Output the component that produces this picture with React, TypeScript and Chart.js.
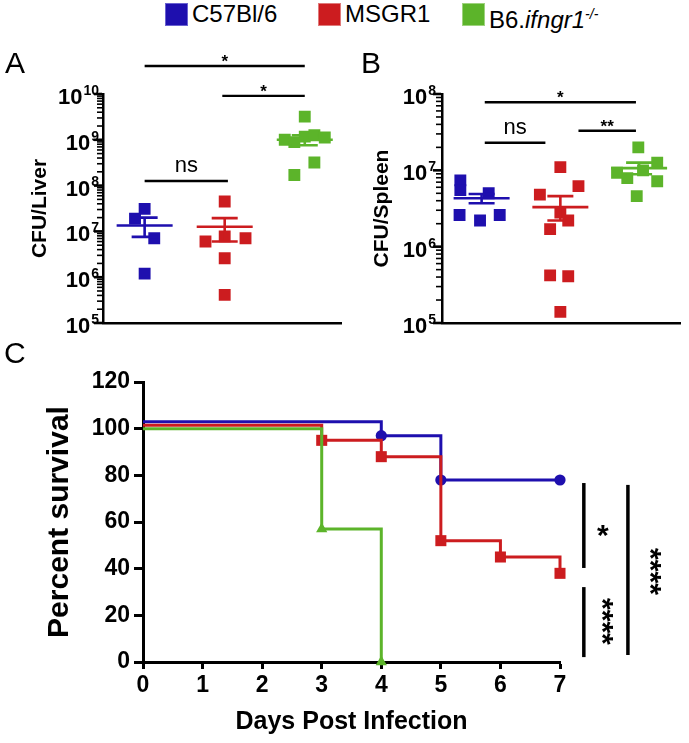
import React, { useEffect, useRef } from 'react';
import { Chart, registerables } from 'chart.js';

Chart.register(...registerables);

const FONT = "'Liberation Sans', Arial, Helvetica, sans-serif";

const GROUP_COLORS = ['#1e0fae', '#cc1c1f', '#5cb42a'];

// ---------- Panel A: CFU / Liver ----------
const liverX_C57 = [0, -0.12, 0.12, 0];
const liverCFU_C57 = [3.1e7, 1.9e7, 7.1e6, 1.2e6];
const liverX_MSGR1 = [1, 0.76, 1, 1.26, 1, 1];
const liverCFU_MSGR1 = [4.5e7, 6.0e6, 7.8e6, 7.1e6, 2.6e6, 4.1e5];
const liverX_IFNGR = [2, 1.75, 1.87, 2, 2.12, 2.25, 2.12, 1.87];
const liverCFU_IFNGR = [3.2e9, 1.0e9, 8.9e8, 1.17e9, 1.26e9, 1.12e9, 3.2e8, 1.7e8];
const liverMean = [1.35e7, 1.26e7, 1.0e9];
const liverSemHi = [2.0e7, 1.95e7, 1.26e9];
const liverSemLo = [7.6e6, 6.0e6, 7.6e8];
const liverSigFrom = [0, 0.97, 0];
const liverSigTo = [2, 2, 1.04];
const liverSigLevel = [4.1e10, 9.1e9, 1.26e8];
const liverSigLabel = ['*', '*', 'ns'];
const liverExponents = [5, 6, 7, 8, 9, 10];

// ---------- Panel B: CFU / Spleen ----------
const spleenX_C57 = [-0.27, -0.27, 0.09, -0.28, -0.02, 0.23];
const spleenCFU_C57 = [7.4e6, 5.5e6, 5.0e6, 2.6e6, 2.2e6, 2.6e6];
const spleenX_MSGR1 = [1, 1.23, 0.74, 1, 1.1, 0.87, 0.87, 1.1, 1];
const spleenCFU_MSGR1 = [1.1e7, 6.2e6, 4.8e6, 2.8e6, 2.2e6, 1.7e6, 4.2e5, 4.1e5, 1.4e5];
const spleenX_IFNGR = [1.99, 2.23, 1.72, 2.23, 1.97, 2.05, 1.85];
const spleenCFU_IFNGR = [2.0e7, 1.26e7, 9.3e6, 7.2e6, 4.6e6, 1.0e7, 7.9e6];
const spleenMean = [4.3e6, 3.3e6, 1.07e7];
const spleenSemHi = [4.9e6, 4.6e6, 1.26e7];
const spleenSemLo = [3.7e6, 2.2e6, 8.9e6];
const spleenSigFrom = [0.04, 0.04, 1.23];
const spleenSigTo = [1.96, 0.81, 1.96];
const spleenSigLevel = [7.8e7, 2.3e7, 3.3e7];
const spleenSigLabel = ['*', 'ns', '**'];
const spleenExponents = [5, 6, 7, 8];

const MINOR_MULTIPLIERS = [1, 2, 3, 4, 5, 6, 7, 8, 9];

// ---------- Panel C: survival ----------
const daysC57 = [0, 4, 5, 7];
const survC57 = [103, 97, 78, 78];
const daysMSGR1 = [0, 3, 4, 5, 6, 7];
const survMSGR1 = [101.5, 95, 88, 52, 45, 38];
const daysIFNGR = [0, 3, 4];
const survIFNGR = [100, 57, 0];
const dayTicks = [0, 1, 2, 3, 4, 5, 6, 7];
const survTicks = [0, 20, 40, 60, 80, 100, 120];
const survSigDay = [7.4, 7.4, 8.14];
const survSigFrom = [40.3, 2.1, 3.0];
const survSigTo = [76.7, 32.1, 75.9];
const survSigLabel = ['*', '****', '****'];
const survSigLabelDay = [7.72, 7.77, 8.58];
const survSigLabelY = [55.7, 17.4, 38.8];

type DotCfg = {
  xs: number[][];
  ys: number[][];
  mean: number[];
  semHi: number[];
  semLo: number[];
  sigFrom: number[];
  sigTo: number[];
  sigLevel: number[];
  sigLabel: string[];
  exponents: number[];
  title: string;
  width: number;
  height: number;
  axisWidth: number;
  padTop: number;
  padRight: number;
  xAxisHeight: number;
  xMin: number;
  xMax: number;
  titlePad: number;
  labelGap: number;
};

function DotPlot(props: DotCfg) {
  const ref = useRef<HTMLCanvasElement | null>(null);
  useEffect(() => {
    if (!ref.current) return;
    const p = props;
    const minE = p.exponents[0];
    const maxE = p.exponents[p.exponents.length - 1];
    const tickValues: { value: number; major: boolean }[] = [];
    p.exponents.forEach((e) => {
      if (e === maxE) {
        tickValues.push({ value: Math.pow(10, e), major: true });
        return;
      }
      MINOR_MULTIPLIERS.forEach((m) => {
        tickValues.push({ value: m * Math.pow(10, e), major: m === 1 });
      });
    });

    const datasets = p.xs.map((xarr, i) => ({
      label: 'g' + i,
      data: xarr.map((x, j) => ({ x, y: p.ys[i][j] })),
      pointStyle: 'rect',
      pointRadius: 8.4,
      pointHoverRadius: 8.4,
      backgroundColor: GROUP_COLORS[i],
      borderColor: GROUP_COLORS[i],
      borderWidth: 0,
    }));

    const overlay = {
      id: 'overlay',
      afterDatasetsDraw(chart: any) {
        const ctx = chart.ctx;
        const xs = chart.scales.x;
        const ys = chart.scales.y;
        ctx.save();
        // mean +/- SEM
        p.mean.forEach((m: number, i: number) => {
          const cx = xs.getPixelForValue(i);
          const ym = ys.getPixelForValue(m);
          const yh = ys.getPixelForValue(p.semHi[i]);
          const yl = ys.getPixelForValue(p.semLo[i]);
          ctx.strokeStyle = GROUP_COLORS[i];
          ctx.lineWidth = 2.6;
          ctx.beginPath();
          ctx.moveTo(cx - 28, ym);
          ctx.lineTo(cx + 28, ym);
          ctx.moveTo(cx - 13, yh);
          ctx.lineTo(cx + 13, yh);
          ctx.moveTo(cx - 13, yl);
          ctx.lineTo(cx + 13, yl);
          ctx.moveTo(cx, yh);
          ctx.lineTo(cx, yl);
          ctx.stroke();
        });
        // significance bars
        ctx.strokeStyle = '#000';
        ctx.fillStyle = '#000';
        ctx.lineWidth = 2.4;
        ctx.textAlign = 'center';
        ctx.textBaseline = 'alphabetic';
        p.sigLevel.forEach((lv: number, i: number) => {
          const x1 = xs.getPixelForValue(p.sigFrom[i]);
          const x2 = xs.getPixelForValue(p.sigTo[i]);
          const y = ys.getPixelForValue(lv);
          ctx.beginPath();
          ctx.moveTo(x1, y);
          ctx.lineTo(x2, y);
          ctx.stroke();
          const lab = p.sigLabel[i];
          if (lab === 'ns') {
            ctx.font = `22px ${FONT}`;
            ctx.fillText(lab, (x1 + x2) / 2, y - 9);
          } else {
            ctx.font = `bold 17px ${FONT}`;
            ctx.fillText(lab, (x1 + x2) / 2, y + 1);
          }
        });
        ctx.restore();
      },
      afterDraw(chart: any) {
        const ctx = chart.ctx;
        const ys = chart.scales.y;
        const axisX = chart.chartArea.left - 1;
        const right = chart.chartArea.left - p.labelGap;
        ctx.save();
        // tick marks (major + minor) placed through the log scale
        ctx.strokeStyle = '#000';
        ctx.lineCap = 'butt';
        tickValues.forEach((t) => {
          const y = ys.getPixelForValue(t.value);
          ctx.lineWidth = t.major ? 2.6 : 1.6;
          ctx.beginPath();
          ctx.moveTo(axisX, y);
          ctx.lineTo(axisX - (t.major ? 8 : 5), y);
          ctx.stroke();
        });
        ctx.fillStyle = '#000';
        ctx.textAlign = 'right';
        ctx.textBaseline = 'middle';
        p.exponents.forEach((e: number) => {
          const y = ys.getPixelForValue(Math.pow(10, e));
          ctx.font = `bold 14px ${FONT}`;
          const sup = String(e);
          const w = ctx.measureText(sup).width;
          ctx.fillText(sup, right, y - 3);
          ctx.font = `bold 22px ${FONT}`;
          ctx.fillText('10', right - w - 1, y + 4);
        });
        ctx.restore();
      },
    };

    const chart = new Chart(ref.current, {
      type: 'scatter',
      data: { datasets: datasets as any },
      options: {
        animation: false,
        responsive: false,
        events: [],
        layout: { padding: { top: p.padTop, right: p.padRight, left: 0, bottom: 0 } },
        plugins: { legend: { display: false }, tooltip: { enabled: false } },
        scales: {
          x: {
            type: 'linear',
            min: p.xMin,
            max: p.xMax,
            grid: { display: false, drawTicks: false },
            border: { display: true, color: '#000', width: 2.5 },
            ticks: { display: false },
            afterFit: (s: any) => {
              s.height = p.xAxisHeight;
            },
          },
          y: {
            type: 'logarithmic',
            min: Math.pow(10, minE),
            max: Math.pow(10, maxE),
            grid: { display: false, drawOnChartArea: false, drawTicks: false },
            border: { display: true, color: '#000', width: 2.5 },
            ticks: { display: false, autoSkip: false },
            title: {
              display: true,
              text: p.title,
              color: '#000',
              font: { family: FONT, size: 21, weight: 'bold' },
              padding: { top: p.titlePad, bottom: 0 },
            },
            afterBuildTicks: (s: any) => {
              s.ticks = tickValues.map((t) => ({ value: t.value, major: t.major }));
            },
            afterFit: (s: any) => {
              s.width = p.axisWidth;
            },
          },
        },
      } as any,
      plugins: [overlay],
    });
    return () => chart.destroy();
  }, []);
  return <canvas ref={ref} width={props.width} height={props.height} style={{ width: props.width, height: props.height, display: 'block' }} />;
}

function SurvivalChart() {
  const ref = useRef<HTMLCanvasElement | null>(null);
  useEffect(() => {
    if (!ref.current) return;
    const mk = (days: number[], surv: number[], color: string, style: string, radius: number) => ({
      data: days.map((d, i) => ({ x: d, y: surv[i] })),
      borderColor: color,
      backgroundColor: color,
      borderWidth: 3,
      stepped: true,
      tension: 0,
      pointStyle: style,
      pointRadius: days.map((_, i) => (i === 0 ? 0 : radius)),
      pointBorderWidth: 0,
      clip: false,
    });
    const datasets = [
      mk(daysIFNGR, survIFNGR, GROUP_COLORS[2], 'triangle', 6.5),
      mk(daysMSGR1, survMSGR1, GROUP_COLORS[1], 'rect', 7.8),
      mk(daysC57, survC57, GROUP_COLORS[0], 'circle', 5.6),
    ];
    const sigPlugin = {
      id: 'sig',
      afterDraw(chart: any) {
        const ctx = chart.ctx;
        const xs = chart.scales.x;
        const ys = chart.scales.y;
        ctx.save();
        ctx.strokeStyle = '#000';
        ctx.fillStyle = '#000';
        ctx.lineWidth = 3.5;
        survSigDay.forEach((d, i) => {
          const x = xs.getPixelForValue(d);
          ctx.beginPath();
          ctx.moveTo(x, ys.getPixelForValue(survSigTo[i]));
          ctx.lineTo(x, ys.getPixelForValue(survSigFrom[i]));
          ctx.stroke();
          const lx = xs.getPixelForValue(survSigLabelDay[i]);
          const ly = ys.getPixelForValue(survSigLabelY[i]);
          ctx.font = `bold 30px ${FONT}`;
          ctx.textAlign = 'center';
          ctx.textBaseline = 'middle';
          const lab = survSigLabel[i];
          ctx.save();
          ctx.translate(lx, ly);
          if (lab.length > 1) ctx.rotate(Math.PI / 2);
          ctx.fillText(lab, 0, 5);
          ctx.restore();
        });
        ctx.restore();
      },
    };
    const tickFont = { family: FONT, size: 23, weight: 'bold' };
    const chart = new Chart(ref.current, {
      type: 'line',
      data: { datasets: datasets as any },
      options: {
        animation: false,
        responsive: false,
        events: [],
        layout: { padding: { top: 42, right: 129, left: 0, bottom: 0 } },
        plugins: { legend: { display: false }, tooltip: { enabled: false } },
        scales: {
          x: {
            type: 'linear',
            min: 0,
            max: 7,
            afterBuildTicks: (s: any) => {
              s.ticks = dayTicks.map((v) => ({ value: v }));
            },
            ticks: { color: '#000', font: tickFont, padding: 3, autoSkip: false, maxRotation: 0 },
            grid: { display: true, drawOnChartArea: false, tickLength: 7, tickWidth: 3, tickColor: '#000' },
            border: { display: true, color: '#000', width: 3 },
            title: {
              display: true,
              text: 'Days Post Infection',
              color: '#000',
              font: { family: FONT, size: 25, weight: 'bold' },
              padding: { top: 0, bottom: 6 },
            },
            afterFit: (s: any) => {
              s.height = 81;
            },
          },
          y: {
            type: 'linear',
            min: 0,
            max: 120,
            afterBuildTicks: (s: any) => {
              s.ticks = survTicks.map((v) => ({ value: v }));
            },
            ticks: { color: '#000', font: tickFont, padding: 4, autoSkip: false },
            grid: { display: true, drawOnChartArea: false, tickLength: 9, tickWidth: 3, tickColor: '#000' },
            border: { display: true, color: '#000', width: 3 },
            title: {
              display: true,
              text: 'Percent survival',
              color: '#000',
              font: { family: FONT, size: 30, weight: 'bold' },
              padding: { top: 42, bottom: 0 },
            },
            afterFit: (s: any) => {
              s.width = 143;
            },
          },
        },
      } as any,
      plugins: [sigPlugin],
    });
    return () => chart.destroy();
  }, []);
  return <canvas ref={ref} width={689} height={403} style={{ width: 689, height: 403, display: 'block' }} />;
}

const abs = (left: number, top: number): React.CSSProperties => ({ position: 'absolute', left, top });

function LegendItem({ left, color, border, children }: { left: number; color: string; border: string; children: React.ReactNode }) {
  return (
    <>
      <div style={{ ...abs(left, 3), width: 21, height: 21, background: color, border: `1px solid ${border}` }} />
      <div style={{ ...abs(left + 27, 2), fontFamily: FONT, fontSize: 24, lineHeight: '24px', color: '#000', whiteSpace: 'nowrap' }}>{children}</div>
    </>
  );
}

export default function App() {
  const letter: React.CSSProperties = { fontFamily: FONT, fontSize: 30, lineHeight: '30px', color: '#000' };
  return (
    <div style={{ position: 'absolute', left: 0, top: 0, width: 689, height: 743, background: '#fff', overflow: 'hidden' }}>
      <LegendItem left={165} color={GROUP_COLORS[0]} border="#6a62d0">C57Bl/6</LegendItem>
      <LegendItem left={318} color={GROUP_COLORS[1]} border="#e07a7a">MSGR1</LegendItem>
      <LegendItem left={462} color={GROUP_COLORS[2]} border="#9ed27e">
        B6.<i>ifngr1</i>
        <sup style={{ fontSize: 14, fontStyle: 'italic', verticalAlign: '9px' }}>-/-</sup>
      </LegendItem>

      <div style={{ ...abs(0, 0) }}>
        <DotPlot
          xs={[liverX_C57, liverX_MSGR1, liverX_IFNGR]}
          ys={[liverCFU_C57, liverCFU_MSGR1, liverCFU_IFNGR]}
          mean={liverMean}
          semHi={liverSemHi}
          semLo={liverSemLo}
          sigFrom={liverSigFrom}
          sigTo={liverSigTo}
          sigLevel={liverSigLevel}
          sigLabel={liverSigLabel}
          exponents={liverExponents}
          title="CFU/Liver"
          width={350}
          height={345}
          axisWidth={103}
          padTop={94}
          padRight={2}
          xAxisHeight={22}
          xMin={-0.52}
          xMax={2.46}
          titlePad={28}
          labelGap={4}
        />
      </div>
      <div style={{ ...abs(350, 0) }}>
        <DotPlot
          xs={[spleenX_C57, spleenX_MSGR1, spleenX_IFNGR]}
          ys={[spleenCFU_C57, spleenCFU_MSGR1, spleenCFU_IFNGR]}
          mean={spleenMean}
          semHi={spleenSemHi}
          semLo={spleenSemLo}
          sigFrom={spleenSigFrom}
          sigTo={spleenSigTo}
          sigLevel={spleenSigLevel}
          sigLabel={spleenSigLabel}
          exponents={spleenExponents}
          title="CFU/Spleen"
          width={339}
          height={345}
          axisWidth={92}
          padTop={94}
          padRight={0}
          xAxisHeight={22}
          xMin={-0.503}
          xMax={2.527}
          titlePad={20}
          labelGap={6}
        />
      </div>
      <div style={{ ...abs(0, 340) }}>
        <SurvivalChart />
      </div>

      <div style={{ ...abs(5, 48), ...letter }}>A</div>
      <div style={{ ...abs(361, 48), ...letter }}>B</div>
      <div style={{ ...abs(4, 338), ...letter }}>C</div>
    </div>
  );
}
